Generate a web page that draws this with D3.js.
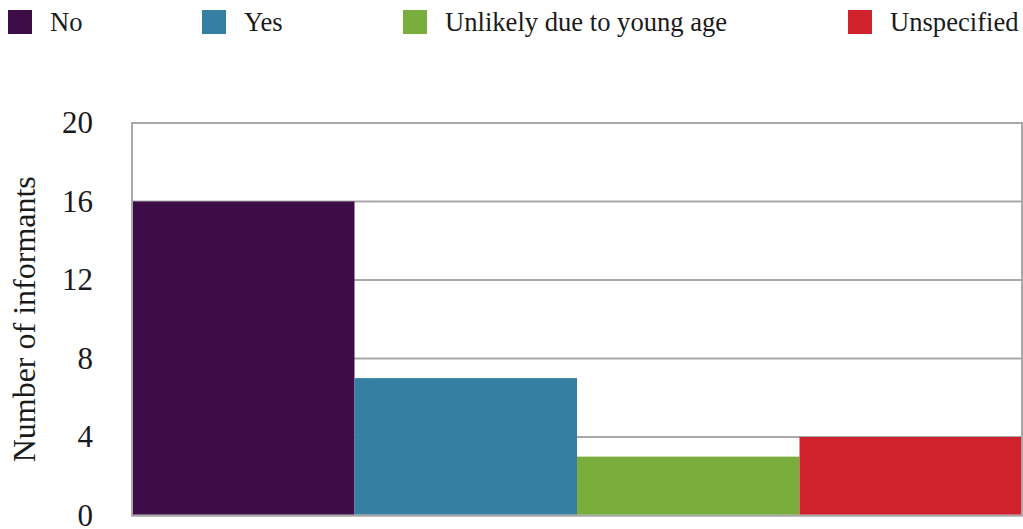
<!DOCTYPE html>
<html>
<head>
<meta charset="utf-8">
<script src="https://cdn.jsdelivr.net/npm/d3@7"></script>
<style>
  html, body { margin: 0; padding: 0; background: #fff; }
  svg { display: block; }
  svg text { font-family: "Liberation Serif", Tinos, "Times New Roman", Times, "Nimbus Roman", "DejaVu Serif", serif; fill: #1a1a1a; }
</style>
</head>
<body>
<svg id="chart" width="1023" height="529"></svg>
<script>
// Responses and counts of informants
const categories = ["No", "Yes", "Unlikely due to young age", "Unspecified"];
const counts = [16, 7, 3, 4];
const colors = ["#3c0d47", "#347fa2", "#7aae3c", "#d0222c"];
const yTicks = [0, 4, 8, 12, 16, 20];
const yTitle = "Number of informants";

const serif = '"Liberation Serif", Tinos, "Times New Roman", Times, "Nimbus Roman", "DejaVu Serif", serif';

const svg = d3.select("#chart");
const plot = { left: 132, right: 1022, top: 123, bottom: 515.5 };

const x = d3.scaleBand()
  .domain(categories)
  .range([plot.left, plot.right])
  .paddingInner(0)
  .paddingOuter(0);

const y = d3.scaleLinear()
  .domain([0, 20])
  .range([plot.bottom, plot.top]);

const gridColor = "#a8a8a8";

// horizontal gridlines
svg.append("g")
  .selectAll("line")
  .data(yTicks)
  .join("line")
  .attr("x1", plot.left)
  .attr("x2", plot.right)
  .attr("y1", d => y(d))
  .attr("y2", d => y(d))
  .attr("stroke", gridColor)
  .attr("stroke-width", 2);

// plot frame
svg.append("rect")
  .attr("x", plot.left)
  .attr("y", plot.top)
  .attr("width", plot.right - plot.left)
  .attr("height", plot.bottom - plot.top)
  .attr("fill", "none")
  .attr("stroke", gridColor)
  .attr("stroke-width", 2);

// bars
svg.append("g")
  .selectAll("rect")
  .data(categories)
  .join("rect")
  .attr("x", d => x(d) + (d === categories[0] ? 1 : 0))
  .attr("width", (d, i) => x.bandwidth() - (i === 0 ? 1 : 0) - (i === categories.length - 1 ? 1 : 0))
  .attr("y", (d, i) => y(counts[i]))
  .attr("height", (d, i) => y(0) - y(counts[i]) - 1)
  .attr("fill", (d, i) => colors[i]);

// y axis labels
const yAxis = d3.axisLeft(y).tickValues(yTicks).tickSize(0).tickPadding(0);
const ga = svg.append("g")
  .attr("transform", "translate(93,0)")
  .call(yAxis)
  .attr("font-family", serif)
  .attr("font-size", 31);
ga.select(".domain").remove();
ga.selectAll("text")
  .style("font-family", serif)
  .attr("fill", "#1a1a1a")
  .attr("dy", "0.32em");

// y axis title
svg.append("text")
  .attr("transform", `translate(35,${(plot.top + plot.bottom) / 2}) rotate(-90)`)
  .attr("text-anchor", "middle")
  .style("font-family", serif)
  .attr("font-size", 32)
  .text(yTitle);

// legend
const legendX = [8, 202, 403, 848];
const legend = svg.append("g")
  .selectAll("g")
  .data(categories)
  .join("g")
  .attr("transform", (d, i) => `translate(${legendX[i]},10)`);
legend.append("rect")
  .attr("width", 24)
  .attr("height", 24)
  .attr("fill", (d, i) => colors[i]);
legend.append("text")
  .attr("x", 42)
  .attr("y", 21)
  .style("font-family", serif)
  .attr("font-size", 26.6)
  .text(d => d);
</script>
</body>
</html>
